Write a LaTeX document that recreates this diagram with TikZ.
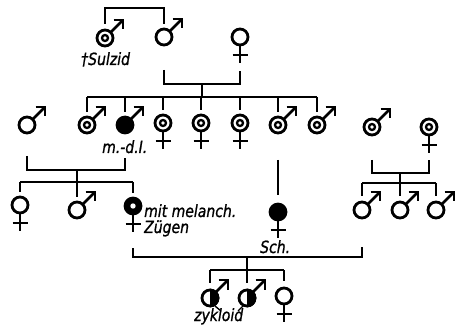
\documentclass[tikz,border=0pt]{standalone}
\usepackage{fontspec}
\newfontfamily\lblfont{DejaVu Sans}[FakeBold=1.2]
\usetikzlibrary{calc}
\newcommand{\tallt}[1]{\scalebox{1}[1.2]{#1}}
\tikzset{
 sym/.style={line width=2.8pt},
 lin/.style={line width=2.2pt},
 ptr/.style={line width=1.4pt},
 lbl/.style={font=\lblfont\itshape\fontsize{14}{15}\selectfont, inner sep=0pt},
 pics/marrow/.style={code={\draw[sym] (5.5,-5.5) -- (18,-18); \draw[sym,line join=miter] (8.5,-18) -- (18,-18) -- (18,-8.5);}},
 pics/fcross/.style={code={\draw[sym] (0,9) -- (0,26); \draw[sym] (-7.5,18) -- (7.5,18);}},
 pics/plain/.style={code={\draw[sym] (0,0) circle (8);}},
 pics/ring/.style={code={\draw[sym] (0,0) circle (8); \draw[line width=2.3pt] (0,0) circle (3);}},
 pics/full/.style={code={\fill (0,0) circle (9.4);}},
 pics/dotted/.style={code={\fill (0,0) circle (9.4); \fill[white] (0,0) circle (2.7);}},
 pics/half/.style={code={\draw[sym] (0,0) circle (8); \begin{scope}\clip (0,-10) rectangle (10,10); \fill (0,0) circle (9.4);\end{scope}}},
}
\begin{document}
\begin{tikzpicture}[x=1pt,y=-1pt]
\useasboundingbox (0,0) rectangle (455,331);
% persons
\coordinate (A) at (105,38);
\coordinate (B) at (164,37);
\coordinate (C) at (240,37);
\coordinate (D) at (27,125);
\coordinate (E) at (87,125);
\coordinate (F) at (125,125);
\coordinate (G) at (163,123);
\coordinate (H) at (201,123);
\coordinate (I) at (240,123);
\coordinate (J) at (278,125);
\coordinate (K) at (317,125);
\coordinate (L) at (372,127);
\coordinate (M) at (429,127);
\coordinate (N) at (20,205);
\coordinate (O) at (77,210);
\coordinate (P) at (133,206);
\coordinate (Q) at (278,212);
\coordinate (R1) at (362,210);
\coordinate (R2) at (400,210);
\coordinate (R3) at (436,210);
\coordinate (S1) at (210,298);
\coordinate (S2) at (247,298);
\coordinate (S3) at (284,296);
% junction points
\coordinate (bc) at (202,84);
\coordinate (sib2) at (202,97);
\coordinate (df) at (77,170);
\coordinate (sib3a) at (77,182);
\coordinate (lm) at (400,173);
\coordinate (sib3b) at (400,183);
\coordinate (pr) at (247,257);
\coordinate (sib4) at (247,270);
% symbols
\pic at (A) {ring}; \pic at (A) {marrow};
\pic at (B) {plain}; \pic at (B) {marrow};
\pic at (C) {plain}; \pic at (C) {fcross};
\pic at (D) {plain}; \pic at (D) {marrow};
\pic at (E) {ring}; \pic at (E) {marrow};
\pic at (F) {full}; \pic at (F) {marrow};
\pic at (G) {ring}; \pic at (G) {fcross};
\pic at (H) {ring}; \pic at (H) {fcross};
\pic at (I) {ring}; \pic at (I) {fcross};
\pic at (J) {ring}; \pic at (J) {marrow};
\pic at (K) {ring}; \pic at (K) {marrow};
\pic at (L) {ring}; \pic at (L) {marrow};
\pic at (M) {ring}; \pic at (M) {fcross};
\pic at (N) {plain}; \pic at (N) {fcross};
\pic at (O) {plain}; \pic at (O) {marrow};
\pic at (P) {dotted}; \pic at (P) {fcross};
\pic at (Q) {full}; \pic at (Q) {fcross};
\pic at (R1) {plain}; \pic at (R1) {marrow};
\pic at (R2) {plain}; \pic at (R2) {marrow};
\pic at (R3) {plain}; \pic at (R3) {marrow};
\pic at (S1) {half}; \pic at (S1) {marrow};
\pic at (S2) {half}; \pic at (S2) {marrow};
\pic at (S3) {plain}; \pic at (S3) {fcross};
% pedigree lines
\draw[lin] ([yshift=14pt]A) -- ++(0,-16) -| ([yshift=13pt]B);
\draw[lin] ([yshift=-33pt]B) |- (bc) -| ([yshift=-34pt]C);
\draw[lin] (bc) -- (sib2);
\draw[lin] (E |- sib2) -- (K |- sib2);
\foreach \p in {E,F,G,H,I,J,K} \draw[lin] (\p |- sib2) -- ([yshift=13pt]\p);
\draw[lin] ([yshift=-31pt]D) |- (df) -| ([yshift=-33pt]F);
\draw[lin] (df) -- (sib3a);
\draw[lin] (N |- sib3a) -- (P |- sib3a);
\foreach \p in {N,O,P} \draw[lin] (\p |- sib3a) -- ([yshift=13pt]\p);
\draw[lin] ([yshift=-33pt]L) |- (lm) -| ([yshift=-33pt]M);
\draw[lin] (lm) -- (sib3b);
\draw[lin] (R1 |- sib3b) -- (R3 |- sib3b);
\foreach \p in {R1,R2,R3} \draw[lin] (\p |- sib3b) -- ([yshift=14pt]\p);
\draw[lin] ([yshift=-35pt]J) -- ([yshift=17pt]Q);
\draw[lin] ([yshift=-42pt]P) |- (pr) -| ([yshift=-37pt]R1);
\draw[lin] (pr) -- (sib4);
\draw[lin] (S1 |- sib4) -- (S3 |- sib4);
\foreach \p in {S1,S2,S3} \draw[lin] (\p |- sib4) -- ([yshift=15pt]\p);
% labels
\node[lbl, anchor=base west] (sulzid) at (81,65) {\tallt{†Sulzid}};
\node[lbl, anchor=base west] (mdi) at (102,153) {\tallt{m.-d.I.}};
\node[lbl, anchor=base west] (mel1) at (144,217) {\tallt{mit melanch.}};
\node[lbl, anchor=base west] (mel2) at (144,233) {\tallt{Zügen}};
\node[lbl, anchor=base west] (sch) at (260,253) {\tallt{Sch.}};
\node[lbl, anchor=base west] (zyk) at (194,321) {\tallt{zykloid}};
\draw[ptr] ([shift={(5pt,-8pt)}]S1) -- ([shift={(11pt,-13pt)}]S1);
\draw[ptr] ([shift={(-4pt,-8pt)}]S2) -- ([shift={(-9pt,-13pt)}]S2);
\end{tikzpicture}
\end{document}
